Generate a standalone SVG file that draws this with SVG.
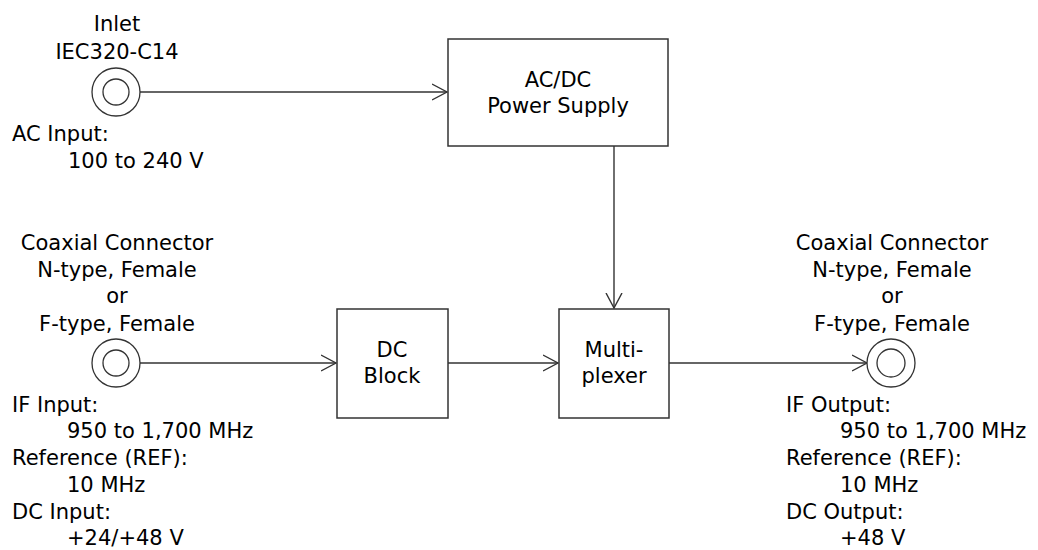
<svg xmlns="http://www.w3.org/2000/svg" width="1038" height="550" viewBox="0 0 1038 550">
<style>
text{font-family:"DejaVu Sans","Liberation Sans",sans-serif;font-size:21px;fill:#000}
.c{text-anchor:middle}
.box{fill:#fff;stroke:#333;stroke-width:1.5}
.ring{fill:#fff;stroke:#333;stroke-width:1.3}
.wire{fill:none;stroke:#333;stroke-width:1.4}
</style>
<defs>
<marker id="arr" viewBox="0 0 16 18" refX="15.5" refY="9" markerWidth="16" markerHeight="18" markerUnits="userSpaceOnUse" orient="auto">
<path d="M0.5,1 L15.5,9 L0.5,17" fill="none" stroke="#333" stroke-width="1.4"/>
</marker>
</defs>
<rect width="1038" height="550" fill="#fff"/>
<g id="connectors">
<line class="wire" x1="140" y1="92" x2="447" y2="92" marker-end="url(#arr)"/>
<line class="wire" x1="614" y1="146" x2="614" y2="308" marker-end="url(#arr)"/>
<line class="wire" x1="140" y1="363" x2="336" y2="363" marker-end="url(#arr)"/>
<line class="wire" x1="448" y1="363" x2="558" y2="363" marker-end="url(#arr)"/>
<line class="wire" x1="669" y1="363" x2="867" y2="363" marker-end="url(#arr)"/>
</g>
<g id="inlet">
<text class="c" x="117" y="31">Inlet</text>
<text class="c" x="117" y="59">IEC320-C14</text>
<circle class="ring" cx="116" cy="92" r="24"/>
<circle class="ring" cx="116" cy="92" r="13"/>
<text x="12" y="141">AC Input:</text>
<text x="68" y="168">100 to 240 V</text>
</g>
<g id="power-supply">
<rect class="box" x="448" y="39" width="220" height="107"/>
<text class="c" x="558" y="87">AC/DC</text>
<text class="c" x="558" y="113">Power Supply</text>
</g>
<g id="if-input">
<text class="c" x="117" y="250">Coaxial Connector</text>
<text class="c" x="117" y="277">N-type, Female</text>
<text class="c" x="117" y="303">or</text>
<text class="c" x="117" y="331">F-type, Female</text>
<circle class="ring" cx="116" cy="363" r="24"/>
<circle class="ring" cx="116" cy="363" r="13"/>
<text x="12" y="412">IF Input:</text>
<text x="67" y="438">950 to 1,700 MHz</text>
<text x="12" y="465">Reference (REF):</text>
<text x="67" y="492">10 MHz</text>
<text x="12" y="519">DC Input:</text>
<text x="67" y="545">+24/+48 V</text>
</g>
<g id="dc-block">
<rect class="box" x="337" y="309" width="111" height="109"/>
<text class="c" x="392" y="357">DC</text>
<text class="c" x="392" y="383">Block</text>
</g>
<g id="multiplexer">
<rect class="box" x="559" y="309" width="110" height="109"/>
<text class="c" x="614" y="357">Multi-</text>
<text class="c" x="614" y="383">plexer</text>
</g>
<g id="if-output">
<text class="c" x="892" y="250">Coaxial Connector</text>
<text class="c" x="892" y="277">N-type, Female</text>
<text class="c" x="892" y="303">or</text>
<text class="c" x="892" y="331">F-type, Female</text>
<circle class="ring" cx="891" cy="363" r="24"/>
<circle class="ring" cx="891" cy="363" r="14"/>
<text x="786" y="412">IF Output:</text>
<text x="840" y="438">950 to 1,700 MHz</text>
<text x="786" y="465">Reference (REF):</text>
<text x="840" y="492">10 MHz</text>
<text x="786" y="519">DC Output:</text>
<text x="840" y="545">+48 V</text>
</g>
</svg>
